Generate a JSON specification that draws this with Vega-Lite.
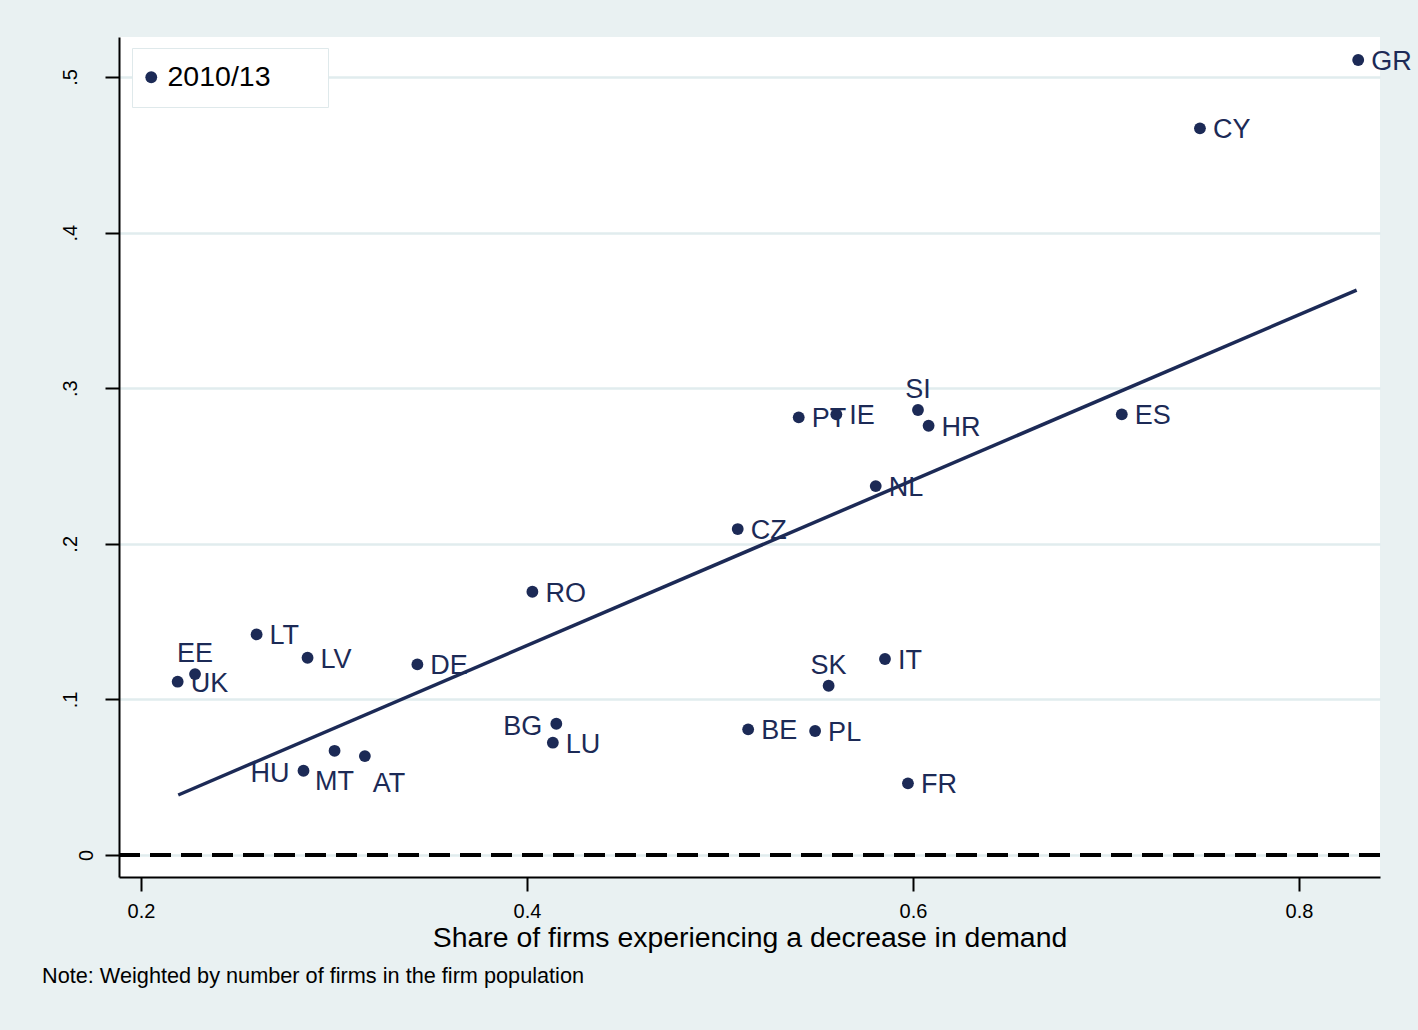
{
  "$schema": "https://vega.github.io/schema/vega-lite/v6.json",
  "width": 1261,
  "height": 840,
  "autosize": {"type": "none"},
  "padding": {"left": 119, "top": 37, "right": 38, "bottom": 153},
  "background": "#e9f1f2",
  "config": {
    "view": {"fill": "white", "stroke": null},
    "font": "Liberation Sans",
    "axis": {
      "domainColor": "black",
      "domainWidth": 2,
      "tickColor": "black",
      "tickWidth": 2,
      "labelColor": "black",
      "labelFont": "Liberation Sans",
      "titleFont": "Liberation Sans",
      "titleColor": "black",
      "titleFontWeight": "normal"
    }
  },
  "title": {
    "text": "Note: Weighted by number of firms in the firm population",
    "orient": "bottom",
    "anchor": "start",
    "frame": "group",
    "dx": -77,
    "offset": 15,
    "fontSize": 21.7,
    "fontWeight": "normal",
    "color": "black",
    "font": "Liberation Sans"
  },
  "datasets": {
    "pts": [
      {"country": "GR", "share_decrease": 0.8307, "outcome": 0.5109, "wave": "2010/13"},
      {"country": "CY", "share_decrease": 0.7487, "outcome": 0.4670, "wave": "2010/13"},
      {"country": "ES", "share_decrease": 0.7082, "outcome": 0.2832, "wave": "2010/13"},
      {"country": "SI", "share_decrease": 0.6026, "outcome": 0.2860, "wave": "2010/13"},
      {"country": "HR", "share_decrease": 0.6081, "outcome": 0.2759, "wave": "2010/13"},
      {"country": "PT", "share_decrease": 0.5408, "outcome": 0.2813, "wave": "2010/13"},
      {"country": "IE", "share_decrease": 0.5603, "outcome": 0.2832, "wave": "2010/13"},
      {"country": "NL", "share_decrease": 0.5807, "outcome": 0.2371, "wave": "2010/13"},
      {"country": "CZ", "share_decrease": 0.5092, "outcome": 0.2095, "wave": "2010/13"},
      {"country": "RO", "share_decrease": 0.4028, "outcome": 0.1692, "wave": "2010/13"},
      {"country": "SK", "share_decrease": 0.5563, "outcome": 0.1088, "wave": "2010/13"},
      {"country": "IT", "share_decrease": 0.5855, "outcome": 0.1260, "wave": "2010/13"},
      {"country": "BE", "share_decrease": 0.5146, "outcome": 0.0808, "wave": "2010/13"},
      {"country": "PL", "share_decrease": 0.5493, "outcome": 0.0797, "wave": "2010/13"},
      {"country": "FR", "share_decrease": 0.5974, "outcome": 0.0461, "wave": "2010/13"},
      {"country": "BG", "share_decrease": 0.4152, "outcome": 0.0844, "wave": "2010/13"},
      {"country": "LU", "share_decrease": 0.4134, "outcome": 0.0722, "wave": "2010/13"},
      {"country": "DE", "share_decrease": 0.3432, "outcome": 0.1225, "wave": "2010/13"},
      {"country": "LT", "share_decrease": 0.2599, "outcome": 0.1418, "wave": "2010/13"},
      {"country": "LV", "share_decrease": 0.2863, "outcome": 0.1268, "wave": "2010/13"},
      {"country": "EE", "share_decrease": 0.2280, "outcome": 0.1163, "wave": "2010/13"},
      {"country": "UK", "share_decrease": 0.2190, "outcome": 0.1114, "wave": "2010/13"},
      {"country": "HU", "share_decrease": 0.2842, "outcome": 0.0542, "wave": "2010/13"},
      {"country": "MT", "share_decrease": 0.3003, "outcome": 0.0670, "wave": "2010/13"},
      {"country": "AT", "share_decrease": 0.3160, "outcome": 0.0636, "wave": "2010/13"}
    ],
    "fit": [
      {"share_decrease": 0.2193, "outcome": 0.0386},
      {"share_decrease": 0.8299, "outcome": 0.3631}
    ],
    "ref": [
      {"outcome": 0}
    ]
  },
  "encoding": {
    "x": {
      "field": "share_decrease",
      "type": "quantitative",
      "scale": {"domain": [0.1886, 0.842], "nice": false, "zero": false},
      "axis": {
        "values": [0.2, 0.4, 0.6, 0.8],
        "format": ".1f",
        "grid": false,
        "tickSize": 14,
        "labelFontSize": 20,
        "labelPadding": 10,
        "title": "Share of firms experiencing a decrease in demand",
        "titleFontSize": 28.4,
        "titlePadding": 3
      }
    },
    "y": {
      "field": "outcome",
      "type": "quantitative",
      "scale": {"domain": [-0.0141, 0.5257], "nice": false, "zero": false},
      "axis": {
        "values": [0, 0.1, 0.2, 0.3, 0.4, 0.5],
        "labelExpr": "datum.value == 0 ? '0' : replace(format(datum.value, '.1f'), '0.', '.')",
        "grid": true,
        "gridColor": "#e1ecee",
        "gridWidth": 2.5,
        "tickSize": 14,
        "labelAngle": -90,
        "labelAlign": "center",
        "labelBaseline": "alphabetic",
        "labelFontSize": 20,
        "labelPadding": {"condition": {"test": "datum.value == 0", "value": 13}, "value": 29},
        "title": null
      }
    }
  },
  "layer": [
    {
      "data": {"name": "ref"},
      "mark": {"type": "rule", "color": "black", "strokeWidth": 4, "strokeDash": [21, 10]},
      "encoding": {"x": null}
    },
    {
      "data": {"name": "fit"},
      "mark": {"type": "line", "color": "#1c2a56", "strokeWidth": 3.5}
    },
    {
      "data": {"name": "pts"},
      "mark": {"type": "point", "filled": true, "shape": "circle", "size": 140, "opacity": 1},
      "encoding": {
        "color": {
          "field": "wave",
          "type": "nominal",
          "scale": {"range": ["#1c2a56"]},
          "legend": {
            "title": null,
            "orient": "none",
            "legendX": 13,
            "legendY": 11,
            "padding": 15,
            "symbolSize": 140,
            "symbolType": "circle",
            "symbolStrokeWidth": 0,
            "symbolOffset": -10,
            "labelFontSize": 28.5,
            "labelColor": "black",
            "labelFont": "Liberation Sans",
            "labelOffset": 2,
            "labelLimit": 0,
            "labelExpr": "datum.label + '\u2800\u2800'",
            "strokeColor": "#dfe9eb",
            "fillColor": "white"
          }
        }
      }
    },
    {
      "data": {"name": "pts"},
      "transform": [{"filter": {"field": "country", "oneOf": ["GR", "CY", "ES", "HR", "PT", "IE", "NL", "CZ", "RO", "IT", "BE", "PL", "FR", "LU", "DE", "LT", "LV", "UK"]}}],
      "mark": {"type": "text", "align": "left", "baseline": "middle", "dx": 13, "dy": 2, "fontSize": 27, "color": "#1c2a56", "font": "Liberation Sans"},
      "encoding": {"text": {"field": "country"}}
    },
    {
      "data": {"name": "pts"},
      "transform": [{"filter": {"field": "country", "oneOf": ["EE", "SK", "SI"]}}],
      "mark": {"type": "text", "align": "center", "baseline": "alphabetic", "dy": -12, "fontSize": 27, "color": "#1c2a56", "font": "Liberation Sans"},
      "encoding": {"text": {"field": "country"}}
    },
    {
      "data": {"name": "pts"},
      "transform": [{"filter": {"field": "country", "oneOf": ["BG", "HU"]}}],
      "mark": {"type": "text", "align": "right", "baseline": "middle", "dx": -14, "dy": 3, "fontSize": 27, "color": "#1c2a56", "font": "Liberation Sans"},
      "encoding": {"text": {"field": "country"}}
    },
    {
      "data": {"name": "pts"},
      "transform": [{"filter": {"field": "country", "oneOf": ["MT"]}}],
      "mark": {"type": "text", "align": "center", "baseline": "middle", "dy": 31, "fontSize": 27, "color": "#1c2a56", "font": "Liberation Sans"},
      "encoding": {"text": {"field": "country"}}
    },
    {
      "data": {"name": "pts"},
      "transform": [{"filter": {"field": "country", "oneOf": ["AT"]}}],
      "mark": {"type": "text", "align": "left", "baseline": "middle", "dx": 8, "dy": 28, "fontSize": 27, "color": "#1c2a56", "font": "Liberation Sans"},
      "encoding": {"text": {"field": "country"}}
    }
  ]
}
